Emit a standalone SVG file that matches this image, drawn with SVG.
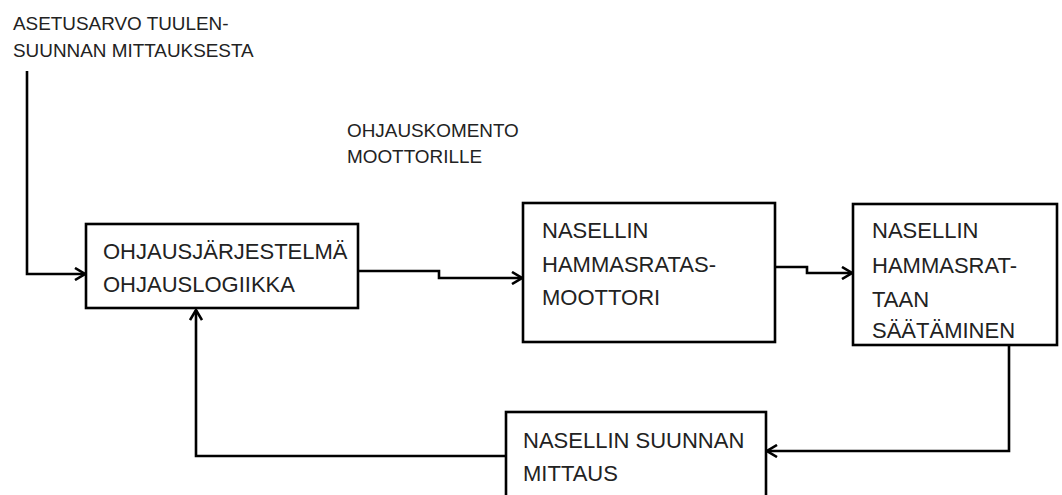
<svg xmlns="http://www.w3.org/2000/svg" width="1062" height="495" viewBox="0 0 1062 495">
<style>
.box{fill:#fff;stroke:#000;stroke-width:2.6}
.t{font-family:"Liberation Sans",Arial,sans-serif;font-size:22px;fill:#222}
.l{font-family:"Liberation Sans",Arial,sans-serif;font-size:18.9px;fill:#222}
.c{fill:none;stroke:#000;stroke-width:2.6}
</style>
<defs>
<marker id="arr" viewBox="0 0 12 14" refX="11" refY="7" markerWidth="12" markerHeight="14" markerUnits="userSpaceOnUse" orient="auto">
<path d="M1,1 L11,7 L1,13" fill="none" stroke="#000" stroke-width="2.6"/>
</marker>
</defs>
<rect width="1062" height="495" fill="#fff"/>
<g id="labels">
<text class="l" x="13" y="30">ASETUSARVO TUULEN-</text>
<text class="l" x="13" y="57">SUUNNAN MITTAUKSESTA</text>
<text class="l" x="347" y="137">OHJAUSKOMENTO</text>
<text class="l" x="347" y="163">MOOTTORILLE</text>
</g>
<g id="connectors">
<path class="c" d="M27,71 V274 H85" marker-end="url(#arr)"/>
<path class="c" d="M358,271 H439 V278 H522" marker-end="url(#arr)"/>
<path class="c" d="M775,267 H807 V273 H852" marker-end="url(#arr)"/>
<path class="c" d="M1009,345 V451 H767" marker-end="url(#arr)"/>
<path class="c" d="M505,456 H196 V310" marker-end="url(#arr)"/>
</g>
<g id="n1">
<rect class="box" x="86" y="224" width="272" height="84"/>
<text class="t" x="103" y="259">OHJAUSJÄRJESTELMÄ</text>
<text class="t" x="103" y="292">OHJAUSLOGIIKKA</text>
</g>
<g id="n2">
<rect class="box" x="523" y="203" width="252" height="139"/>
<text class="t" x="542" y="238">NASELLIN</text>
<text class="t" x="542" y="272">HAMMASRATAS-</text>
<text class="t" x="542" y="305">MOOTTORI</text>
</g>
<g id="n3">
<rect class="box" x="853" y="204" width="204" height="141"/>
<text class="t" x="872" y="238">NASELLIN</text>
<text class="t" x="872" y="273">HAMMASRAT-</text>
<text class="t" x="872" y="307">TAAN</text>
<text class="t" x="872" y="338">SÄÄTÄMINEN</text>
</g>
<g id="n4">
<rect class="box" x="506" y="412" width="260" height="100"/>
<text class="t" x="523" y="448">NASELLIN SUUNNAN</text>
<text class="t" x="523" y="481">MITTAUS</text>
</g>
</svg>
